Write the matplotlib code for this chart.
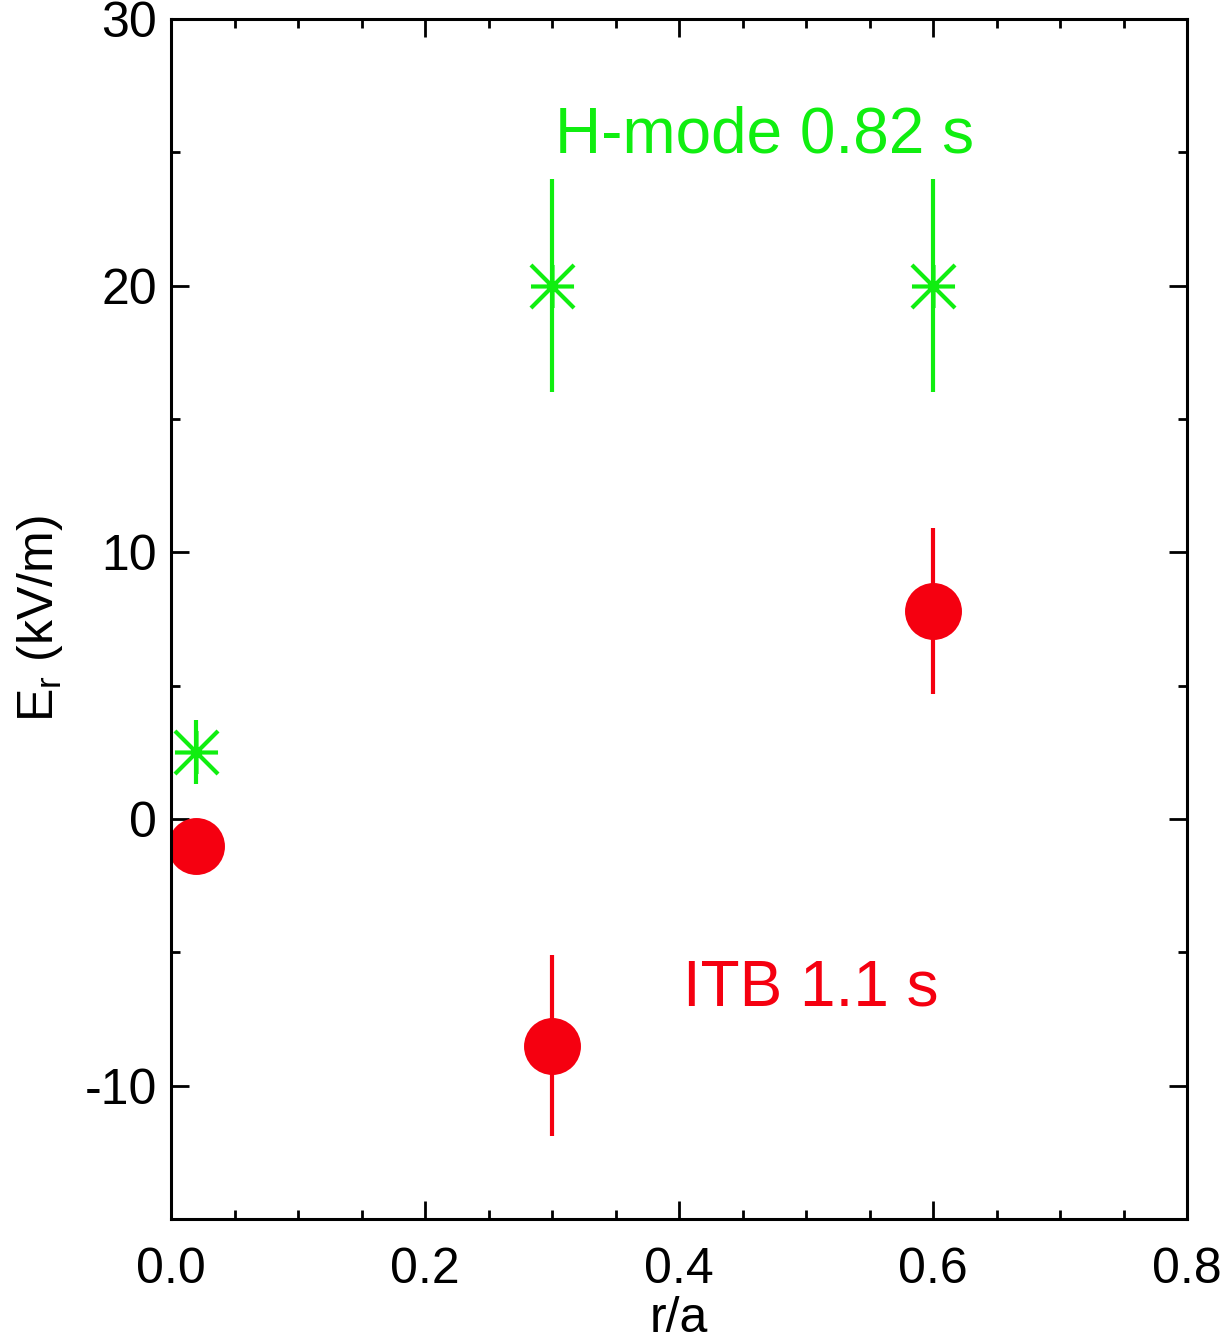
import matplotlib
matplotlib.use('Agg')
import matplotlib.pyplot as plt
from matplotlib.path import Path
from matplotlib.ticker import MultipleLocator

plt.rcParams['font.family'] = ['Liberation Sans', 'DejaVu Sans']
plt.rcParams['mathtext.fontset'] = 'custom'
plt.rcParams['mathtext.rm'] = 'Liberation Sans'
plt.rcParams['mathtext.it'] = 'Liberation Sans'
plt.rcParams['axes.unicode_minus'] = False

# H-mode 0.82 s (green asterisks)
hmode_r = [0.02, 0.30, 0.60]
hmode_er = [2.5, 20.0, 20.0]
hmode_err = [1.2, 4.0, 4.0]

# ITB 1.1 s (red circles)
itb_r = [0.02, 0.30, 0.60]
itb_er = [-1.0, -8.5, 7.8]
itb_err = [0.5, 3.4, 3.1]

green = '#10EE10'
red = '#F50010'

# IDL-style asterisk: +, and x reaching the corners
star = Path([(-1, 0), (1, 0), (0, -1), (0, 1), (-1, -1), (1, 1), (-1, 1), (1, -1)],
            [Path.MOVETO, Path.LINETO] * 4)

fig = plt.figure(figsize=(12.26, 13.4), dpi=100)
ax = fig.add_axes([0.1395, 0.0903, 0.8287, 0.8955])

ax.errorbar(hmode_r, hmode_er, yerr=hmode_err, fmt='none', ecolor=green, elinewidth=3.0, capsize=0)
ax.plot(hmode_r, hmode_er, linestyle='none', marker=star, markersize=31, markeredgewidth=3.0,
        color=green, markerfacecolor='none')

ax.errorbar(itb_r, itb_er, yerr=itb_err, fmt='none', ecolor=red, elinewidth=3.0, capsize=0)
ax.plot(itb_r, itb_er, linestyle='none', marker='o', markersize=41, color=red, markeredgewidth=0)

ax.text(0.302, 25, 'H-mode 0.82 s', color=green, fontsize=46, ha='left', va='baseline')
ax.text(0.403, -7, 'ITB 1.1 s', color=red, fontsize=46, ha='left', va='baseline')

ax.set_xlim(0, 0.8)
ax.set_ylim(-15, 30)
ax.xaxis.set_minor_locator(MultipleLocator(0.05))
ax.yaxis.set_major_locator(MultipleLocator(10))
ax.yaxis.set_minor_locator(MultipleLocator(5))
ax.set_xticks([0, 0.2, 0.4, 0.6, 0.8])
ax.set_xticklabels(['0.0', '0.2', '0.4', '0.6', '0.8'])

ax.tick_params(which='both', direction='in', top=True, right=True, width=2.0, labelsize=36)
ax.tick_params(which='major', length=13)
ax.tick_params(which='minor', length=6.5)
ax.tick_params(axis='x', pad=20)
ax.tick_params(axis='y', pad=10)
for s in ax.spines.values():
    s.set_linewidth(2.2)

ax.set_xlabel('r/a', fontsize=36, labelpad=2)
ax.set_ylabel(r'$\mathregular{E_r}$ (kV/m)', fontsize=36, labelpad=14)

fig.savefig('out.png', dpi=100)
